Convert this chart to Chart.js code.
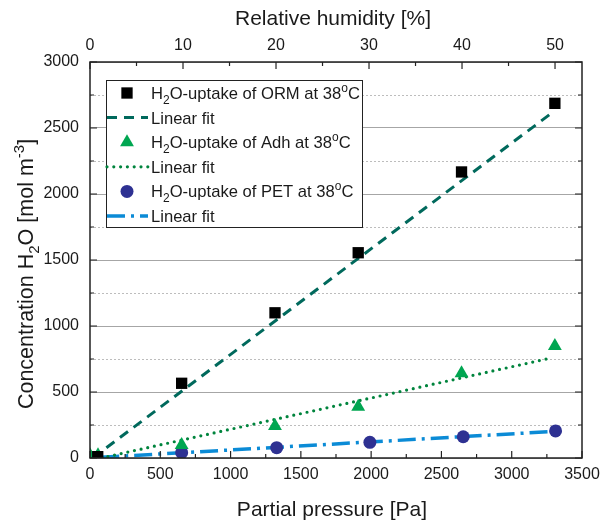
<!DOCTYPE html>
<html>
<head>
<meta charset="utf-8">
<script src="https://cdn.jsdelivr.net/npm/chart.js@4.4.1/dist/chart.umd.min.js"></script>
<style>
  html, body { margin: 0; background: #fff; }
  #wrap { width: 601px; height: 525px; }
</style>
</head>
<body>
<div id="wrap"><canvas id="chart"></canvas></div>
<script>
// values
const ormPressure = [55, 652, 1316, 1908, 2643, 3307]
const ormUptake = [10, 566, 1100, 1555, 2167, 2687]
const adhPressure = [0, 57, 652, 1316, 1908, 2643, 3307]
const adhUptake = [20, 20, 98, 242, 389, 642, 848]
const petPressure = [30, 652, 1328, 1991, 2655, 3312]
const petUptake = [0, 40, 78, 119, 161, 205]

// linear fits, two end points each
const ormFitPressure = [20, 3296]
const ormFitValue = [0, 2623]
const adhFitPressure = [80, 3290]
const adhFitValue = [0, 760]
const petFitPressure = [80, 3280]
const petFitValue = [5, 200]

const pressureTicks = [0, 500, 1000, 1500, 2000, 2500, 3000, 3500]
const humidityTicks = [0, 10, 20, 30, 40, 50]
const humidityMax = 52.9
const concentrationTicks = [0, 500, 1000, 1500, 2000, 2500, 3000]

const FONT = '"Liberation Sans", Arial, sans-serif'
const INK = '#1a1a1a'

const xy = (xs, ys) => xs.map((x, i) => ({ x: x, y: ys[i] }))

const series = {
  orm: { color: '#000000', style: 'rect', radius: 8 },
  ormFit: { color: '#00695c', width: 3, dash: [10, 7], cap: 'butt' },
  adh: { color: '#00a651', style: 'triangle', radius: 8 },
  adhFit: { color: '#00843d', width: 3.2, dash: [0, 6.8], cap: 'round' },
  pet: { color: '#2e3192', style: 'circle', radius: 6.5 },
  petFit: { color: '#0b8bd6', width: 3.5, dash: [18, 6, 3, 6], cap: 'butt' }
}

function pointSet(label, xs, ys, s) {
  return {
    label: label,
    data: xy(xs, ys),
    pointStyle: s.style,
    pointRadius: s.radius,
    pointHoverRadius: s.radius,
    backgroundColor: s.color,
    borderColor: s.color,
    pointBorderWidth: 0,
    showLine: false,
    order: 0
  }
}

function fitSet(label, xs, ys, s) {
  return {
    label: label,
    data: xy(xs, ys),
    showLine: true,
    pointRadius: 0,
    borderColor: s.color,
    borderWidth: s.width,
    borderDash: s.dash,
    borderCapStyle: s.cap,
    fill: false,
    order: 1
  }
}

// text with sub (1) / super (-1) scripts
function richWidth(ctx, parts, size) {
  let w = 0
  for (const [t, s] of parts) {
    ctx.font = (s ? Math.round(size * 0.72) : size) + 'px ' + FONT
    w += ctx.measureText(t).width
  }
  return w
}
function richText(ctx, parts, x, y, size) {
  let cx = x
  for (const [t, s] of parts) {
    const fs = s ? Math.round(size * 0.72) : size
    ctx.font = fs + 'px ' + FONT
    const dy = s === 1 ? size * 0.3 : s === -1 ? -size * 0.42 : 0
    ctx.fillText(t, cx, y + dy)
    cx += ctx.measureText(t).width
  }
}

function marker(ctx, s, x, y) {
  ctx.save()
  ctx.fillStyle = s.color
  ctx.beginPath()
  if (s.style === 'rect') {
    const h = s.radius * Math.SQRT1_2
    ctx.rect(x - h, y - h, 2 * h, 2 * h)
  } else if (s.style === 'triangle') {
    const r = s.radius
    ctx.moveTo(x, y - r)
    ctx.lineTo(x + r * Math.sin(2 * Math.PI / 3), y + r / 2)
    ctx.lineTo(x - r * Math.sin(2 * Math.PI / 3), y + r / 2)
    ctx.closePath()
  } else {
    ctx.arc(x, y, s.radius, 0, Math.PI * 2)
  }
  ctx.fill()
  ctx.restore()
}

function sampleLine(ctx, s, x1, x2, y) {
  ctx.save()
  ctx.strokeStyle = s.color
  ctx.lineWidth = s.width
  ctx.lineCap = s.cap
  ctx.setLineDash(s.dash)
  ctx.beginPath()
  ctx.moveTo(x1, y)
  ctx.lineTo(x2, y)
  ctx.stroke()
  ctx.restore()
}

const legendRows = [
  { mark: series.orm, text: [['H', 0], ['2', 1], ['O-uptake of ORM at 38', 0], ['o', -1], ['C', 0]] },
  { line: series.ormFit, text: [['Linear fit', 0]] },
  { mark: series.adh, text: [['H', 0], ['2', 1], ['O-uptake of Adh at 38', 0], ['o', -1], ['C', 0]] },
  { line: series.adhFit, text: [['Linear fit', 0]] },
  { mark: series.pet, text: [['H', 0], ['2', 1], ['O-uptake of PET at 38', 0], ['o', -1], ['C', 0]] },
  { line: series.petFit, text: [['Linear fit', 0]] }
]

// inward ticks on all sides, dotted minor grid, frame, legend, titles
const decorations = {
  id: 'decorations',
  beforeDatasetsDraw(chart) {
    const { ctx, chartArea: a, scales } = chart
    ctx.save()
    ctx.strokeStyle = '#bdbdbd'
    ctx.lineWidth = 1
    ctx.setLineDash([2, 2])
    for (let i = 0; i < concentrationTicks.length - 1; i++) {
      const v = (concentrationTicks[i] + concentrationTicks[i + 1]) / 2
      const y = Math.round(scales.y.getPixelForValue(v)) + 0.5
      ctx.beginPath()
      ctx.moveTo(a.left, y)
      ctx.lineTo(a.right, y)
      ctx.stroke()
    }
    ctx.restore()
  },
  afterDatasetsDraw(chart) {
    const { ctx, chartArea: a, scales } = chart
    ctx.save()
    ctx.strokeStyle = '#222'
    ctx.lineWidth = 1.2
    const major = 7, minor = 4
    const hTick = (x, len, top) => {
      if (x > a.right + 0.5) return
      ctx.beginPath()
      if (top) { ctx.moveTo(x, a.top); ctx.lineTo(x, a.top + len) }
      else { ctx.moveTo(x, a.bottom); ctx.lineTo(x, a.bottom - len) }
      ctx.stroke()
    }
    const vTick = (y, len) => {
      ctx.beginPath()
      ctx.moveTo(a.left, y); ctx.lineTo(a.left + len, y)
      ctx.moveTo(a.right, y); ctx.lineTo(a.right - len, y)
      ctx.stroke()
    }
    pressureTicks.forEach((v, i) => {
      hTick(scales.x.getPixelForValue(v), major, false)
      if (i < pressureTicks.length - 1) {
        hTick(scales.x.getPixelForValue((v + pressureTicks[i + 1]) / 2), minor, false)
      }
    })
    humidityTicks.forEach(v => {
      hTick(scales.x2.getPixelForValue(v), major, true)
      hTick(scales.x2.getPixelForValue(v + 5), minor, true)
    })
    concentrationTicks.forEach((v, i) => {
      vTick(scales.y.getPixelForValue(v), major)
      if (i < concentrationTicks.length - 1) {
        vTick(scales.y.getPixelForValue((v + concentrationTicks[i + 1]) / 2), minor)
      }
    })
    ctx.lineWidth = 1.5
    ctx.strokeRect(a.left, a.top, a.right - a.left, a.bottom - a.top)

    // legend
    const lx = 106, ly = 80, lw = 256, lh = 147
    ctx.fillStyle = '#fff'
    ctx.fillRect(lx, ly, lw, lh)
    ctx.lineWidth = 1
    ctx.strokeStyle = '#222'
    ctx.strokeRect(lx + 0.5, ly + 0.5, lw, lh)
    ctx.textBaseline = 'alphabetic'
    ctx.textAlign = 'left'
    legendRows.forEach((row, i) => {
      const cy = 93 + i * 24.6
      if (row.mark) marker(ctx, row.mark, 127, cy)
      else sampleLine(ctx, row.line, 107, 148, cy)
      ctx.fillStyle = INK
      richText(ctx, row.text, 151, cy + 6, 16.6)
    })
    ctx.restore()
  },
  afterDraw(chart) {
    const { ctx } = chart
    ctx.save()
    ctx.fillStyle = INK
    ctx.textBaseline = 'alphabetic'
    ctx.textAlign = 'left'
    const size = 21
    const bottom = [['Partial pressure [Pa]', 0]]
    richText(ctx, bottom, 332 - richWidth(ctx, bottom, size) / 2, 516, size)
    const top = [['Relative humidity [%]', 0]]
    richText(ctx, top, 333 - richWidth(ctx, top, size) / 2, 25, size)
    const left = [['Concentration H', 0], ['2', 1], ['O [mol m', 0], ['-3', -1], [']', 0]]
    ctx.translate(33, 274)
    ctx.rotate(-Math.PI / 2)
    richText(ctx, left, -richWidth(ctx, left, 21.5) / 2, 0, 21.5)
    ctx.restore()
  }
}

const tickFont = { family: FONT, size: 16 }
const plain = v => String(v)
const noSidePad = s => { s.paddingLeft = 0; s.paddingRight = 0 }

new Chart(document.getElementById('chart'), {
  type: 'scatter',
  data: {
    datasets: [
      pointSet('H2O-uptake of ORM at 38°C', ormPressure, ormUptake, series.orm),
      pointSet('H2O-uptake of Adh at 38°C', adhPressure, adhUptake, series.adh),
      pointSet('H2O-uptake of PET at 38°C', petPressure, petUptake, series.pet),
      fitSet('Linear fit ORM', ormFitPressure, ormFitValue, series.ormFit),
      fitSet('Linear fit Adh', adhFitPressure, adhFitValue, series.adhFit),
      fitSet('Linear fit PET', petFitPressure, petFitValue, series.petFit)
    ]
  },
  options: {
    responsive: true,
    maintainAspectRatio: false,
    animation: false,
    events: [],
    layout: { padding: { left: 0, right: 19, top: 0, bottom: 0 } },
    plugins: {
      legend: { display: false },
      tooltip: { enabled: false }
    },
    scales: {
      x: {
        type: 'linear',
        position: 'bottom',
        min: 0,
        max: 3500,
        afterBuildTicks: s => { s.ticks = pressureTicks.map(v => ({ value: v })) },
        afterFit: s => { s.height = 67; noSidePad(s) },
        grid: { display: false, drawTicks: false },
        border: { display: false },
        ticks: { font: tickFont, color: INK, padding: 7, maxRotation: 0, autoSkip: false, callback: plain }
      },
      x2: {
        type: 'linear',
        position: 'top',
        min: 0,
        max: humidityMax,
        afterBuildTicks: s => { s.ticks = humidityTicks.map(v => ({ value: v })) },
        afterFit: s => { s.height = 62; noSidePad(s) },
        grid: { display: false, drawTicks: false },
        border: { display: false },
        ticks: { font: tickFont, color: INK, padding: 7, maxRotation: 0, autoSkip: false, callback: plain }
      },
      y: {
        type: 'linear',
        position: 'left',
        min: 0,
        max: 3000,
        afterBuildTicks: s => { s.ticks = concentrationTicks.map(v => ({ value: v })) },
        afterFit: s => { s.width = 90; s.paddingTop = 0; s.paddingBottom = 0 },
        grid: { color: '#a6a6a6', lineWidth: 1, drawTicks: false },
        border: { display: false },
        ticks: { font: tickFont, color: INK, padding: 11, autoSkip: false, callback: plain }
      }
    }
  },
  plugins: [decorations]
})
</script>
</body>
</html>
